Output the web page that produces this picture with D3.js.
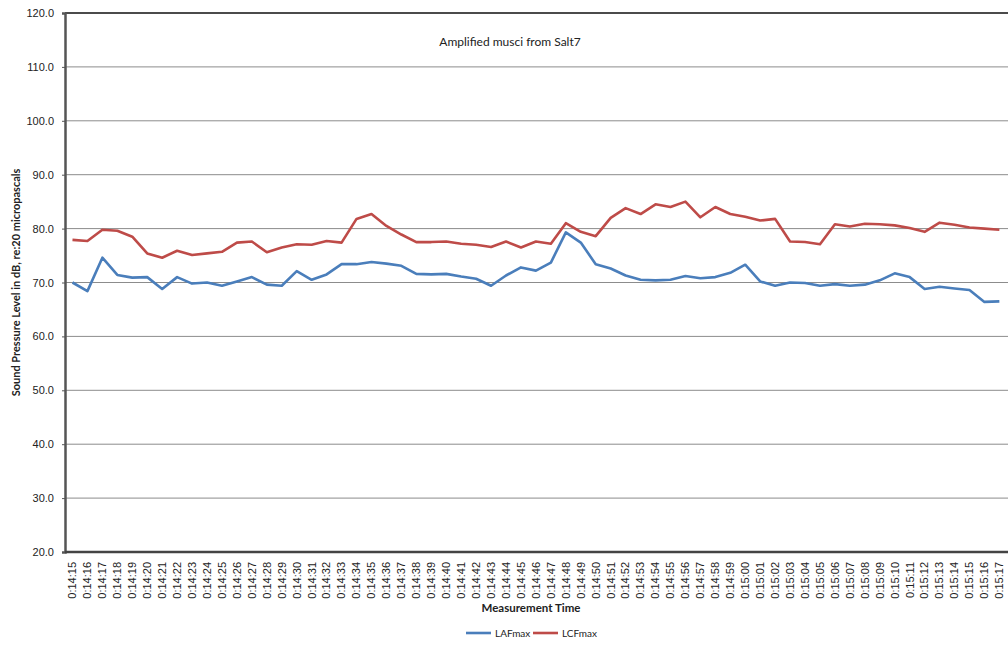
<!DOCTYPE html>
<html lang="en">
<head>
<meta charset="utf-8">
<title>Amplified musci from Salt7</title>
<script src="https://cdn.jsdelivr.net/npm/d3@7"></script>
<style>
    body { margin: 0; background: #fff; }
    svg { font-family: "Lato", "Liberation Sans", sans-serif; }
    .grid line { stroke: #8c8c8c; stroke-width: 1; }
    .series { fill: none; stroke-width: 2.6; stroke-linejoin: round; }
</style>
</head>
<body>
<div id="chart"></div>
<script>
// measurement times (one per second)
const times = [];
for (let s = 15; s <= 77; s++) {
    const m = 14 + Math.floor(s / 60), sec = s % 60;
    times.push(`0:${m}:${String(sec).padStart(2, '0')}`);
}

const lafmax = [70.0, 68.4, 74.6, 71.4, 70.9, 71.0, 68.8, 71.0, 69.8, 70.0,
    69.4, 70.2, 71.0, 69.6, 69.4, 72.1, 70.5, 71.5, 73.4, 73.4,
    73.8, 73.5, 73.1, 71.6, 71.5, 71.6, 71.1, 70.7, 69.4, 71.3,
    72.8, 72.2, 73.7, 79.3, 77.4, 73.4, 72.6, 71.3, 70.5, 70.4,
    70.5, 71.2, 70.8, 71.0, 71.8, 73.3, 70.2, 69.4, 70.0, 69.9,
    69.4, 69.7, 69.4, 69.6, 70.4, 71.7, 71.0, 68.8, 69.2, 68.9,
    68.6, 66.4, 66.5];

const lcfmax = [77.9, 77.7, 79.8, 79.6, 78.5, 75.4, 74.6, 75.9, 75.1, 75.4,
    75.7, 77.4, 77.6, 75.6, 76.5, 77.1, 77.0, 77.7, 77.4, 81.8,
    82.7, 80.5, 78.9, 77.5, 77.5, 77.6, 77.2, 77.0, 76.6, 77.6,
    76.5, 77.6, 77.2, 81.0, 79.4, 78.6, 82.0, 83.8, 82.7, 84.5,
    84.0, 85.0, 82.1, 84.0, 82.7, 82.2, 81.5, 81.8, 77.6, 77.5,
    77.1, 80.8, 80.4, 80.9, 80.8, 80.6, 80.1, 79.4, 81.1, 80.7,
    80.2, 80.0, 79.8];

const yTicks = [20, 30, 40, 50, 60, 70, 80, 90, 100, 110, 120];

const seriesNames = ['LAFmax', 'LCFmax'];
const colors = ['#4a7ebb', '#be4b48'];

const width = 1008, height = 646;
const margin = {top: 13, left: 65, right: 2, bottom: 94};
const innerW = width - margin.left - margin.right,
      innerH = height - margin.top - margin.bottom;

const svg = d3.select('#chart').append('svg')
    .attr('width', width)
    .attr('height', height);

const g = svg.append('g')
    .attr('transform', `translate(${margin.left}, ${margin.top})`);

const x = d3.scaleBand()
    .domain(times)
    .range([0, 63 * 14.95]);

const y = d3.scaleLinear()
    .domain([20, 120])
    .range([innerH, 0]);

// gridlines
g.append('g')
    .attr('class', 'grid')
    .selectAll('line')
    .data(yTicks.slice(1))
    .join('line')
        .attr('x1', 0)
        .attr('x2', innerW + 5)
        .attr('y1', d => y(d))
        .attr('y2', d => y(d));

// top border
g.append('line')
    .attr('x1', 0).attr('x2', innerW + 5)
    .attr('y1', 0).attr('y2', 0)
    .attr('stroke', '#222').attr('stroke-width', 1.5);

// y axis
const yAxis = g.append('g')
    .call(d3.axisLeft(y).tickValues(yTicks).tickFormat(d3.format('.1f')).tickSize(3).tickPadding(8));
yAxis.select('.domain').attr('stroke', '#555').attr('stroke-width', 2.5);
yAxis.selectAll('.tick line').attr('stroke', '#555');
yAxis.selectAll('text').attr('font-size', 11).attr('fill', '#222');

// x axis
const xAxis = g.append('g')
    .attr('transform', `translate(0, ${innerH})`)
    .call(d3.axisBottom(x).tickSize(0).tickPadding(0));
xAxis.select('.domain').attr('stroke', '#444').attr('stroke-width', 2.5)
    .attr('d', `M0,0H${innerW + 5}`);
xAxis.selectAll('text')
    .attr('font-size', 11)
    .attr('fill', '#222')
    .attr('text-anchor', 'end')
    .attr('dy', '0.35em')
    .attr('transform', 'translate(0, 10) rotate(-90)');

// lines
const line = d3.line()
    .x((d, i) => x(times[i]) + x.bandwidth() / 2)
    .y(d => y(d));

[lafmax, lcfmax].forEach((vals, i) => {
    g.append('path')
        .attr('class', 'series')
        .attr('stroke', colors[i])
        .attr('d', line(vals));
});

// title
svg.append('text')
    .attr('x', 510).attr('y', 46)
    .attr('text-anchor', 'middle')
    .attr('font-size', 12)
    .attr('fill', '#222')
    .text('Amplified musci from Salt7');

// axis titles
svg.append('text')
    .attr('transform', `translate(20, ${margin.top + innerH / 2}) rotate(-90)`)
    .attr('text-anchor', 'middle')
    .attr('font-size', 11)
    .attr('font-weight', 'bold')
    .attr('fill', '#222')
    .text('Sound Pressure Level in dB, re:20 micropascals');

svg.append('text')
    .attr('x', 531).attr('y', 612)
    .attr('text-anchor', 'middle')
    .attr('font-size', 11.5)
    .attr('font-weight', 'bold')
    .attr('fill', '#222')
    .text('Measurement Time');

// legend
const legend = svg.append('g').attr('transform', 'translate(466, 633)');
const items = legend.selectAll('g')
    .data(seriesNames)
    .join('g')
        .attr('transform', (d, i) => `translate(${i * 67}, 0)`);
items.append('line')
    .attr('x1', 0).attr('x2', 25)
    .attr('stroke', (d, i) => colors[i])
    .attr('stroke-width', 2.6);
items.append('text')
    .attr('x', 29).attr('dy', '0.35em')
    .attr('font-size', 10)
    .attr('fill', '#222')
    .text(d => d);
</script>
</body>
</html>
